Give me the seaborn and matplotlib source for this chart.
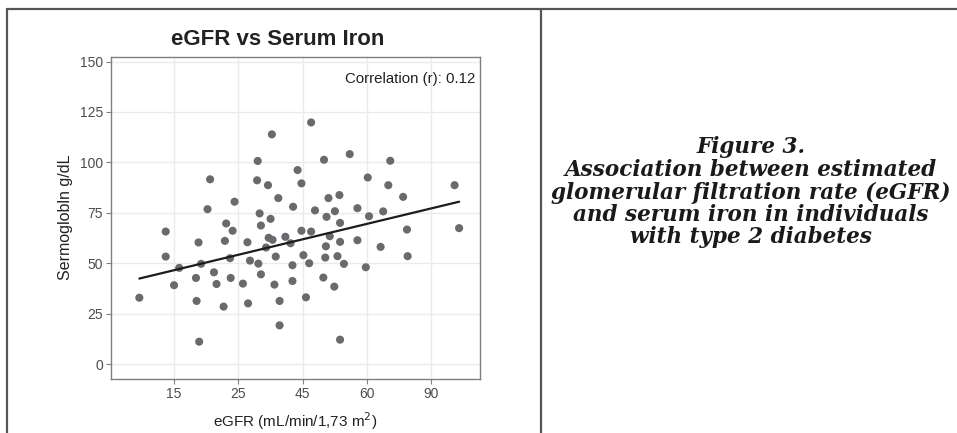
import matplotlib
matplotlib.use("Agg")
import matplotlib.pyplot as plt
import seaborn as sns
import pandas as pd
from matplotlib.lines import Line2D

# eGFR axis position (ticks at 1..5) and serum iron for each participant
egfr_pos = [2.30, 3.33, 3.73, 4.36, 1.56, 2.92, 2.29, 2.46, 2.98, 4.01, 4.33, 5.36,
            1.94, 2.62, 3.57, 3.40, 4.56, 1.52, 2.85, 3.19, 2.33, 3.50, 3.85, 4.25,
            3.37, 4.03, 2.50, 1.81, 2.35, 3.58, 0.87, 1.91, 2.98, 3.13, 4.62, 5.43,
            2.73, 2.47, 2.53, 3.42, 1.38, 1.79, 2.14, 2.81, 3.58, 3.85, 2.43, 4.21,
            0.87, 1.87, 2.58, 3.01, 3.35, 3.54, 4.63, 2.18, 1.08, 1.42, 2.31, 2.84,
            3.10, 3.64, 3.98, 1.62, 2.35, 1.34, 1.88, 2.84, 3.32, 1.00, 1.66, 2.07,
            2.56, 3.49, 0.46, 1.35, 1.77, 2.15, 2.64, 3.05, 2.64, 1.39, 3.58, 2.52,
            3.13, 3.36]
serum_iron = [100.7, 101.3, 104.1, 100.8, 91.6, 96.2, 91.1, 88.7, 89.6, 92.5, 88.7, 88.7,
              80.5, 82.3, 83.8, 82.3, 82.9, 76.8, 78.0, 76.2, 74.7, 75.8, 77.3, 75.7,
              73.0, 73.3, 72.0, 69.7, 68.7, 70.0, 65.7, 66.1, 66.1, 65.7, 66.7, 67.4,
              63.1, 62.6, 61.6, 63.4, 60.3, 61.1, 60.4, 59.9, 60.6, 61.4, 57.8, 58.1,
              53.3, 52.5, 53.3, 54.0, 52.8, 53.5, 53.5, 51.3, 47.7, 49.7, 49.8, 49.0,
              50.0, 49.7, 48.0, 45.5, 44.5, 42.7, 42.7, 41.2, 42.9, 39.1, 39.7, 39.9,
              39.4, 38.4, 32.9, 31.3, 28.5, 30.1, 31.3, 33.1, 19.2, 11.1, 12.1, 113.9,
              119.8, 58.4]

# linear trend line, evaluated at the smallest and largest eGFR positions
trend_pos = [0.46, 5.43]
trend_iron = [42.4, 80.5]

x_ticks = [1, 2, 3, 4, 5]
x_tick_labels = ["15", "25", "45", "60", "90"]
y_ticks = [0, 25, 50, 75, 100, 125, 150]
correlation_r = 0.12

caption_lines = [
    "Figure 3.",
    "Association between estimated",
    "glomerular filtration rate (eGFR)",
    "and serum iron in individuals",
    "with type 2 diabetes",
]

df = pd.DataFrame({"egfr": egfr_pos, "iron": serum_iron})
trend = pd.DataFrame({"egfr": trend_pos, "iron": trend_iron})

sns.set_theme(style="white")
plt.rcParams["font.family"] = ["Liberation Sans", "DejaVu Sans"]

W, H = 957, 433
fig = plt.figure(figsize=(W / 100, H / 100), dpi=100)
ax_top, ax_bottom, ax_left, ax_right = 56.5, 379, 110.7, 480
ax = fig.add_axes([ax_left / W, 1 - ax_bottom / H, (ax_right - ax_left) / W,
                   (ax_bottom - ax_top) / H])

grid_c = "#ebebeb"
for t in x_ticks:
    ax.axvline(t, color=grid_c, lw=1.0, zorder=0)
for t in y_ticks:
    ax.axhline(t, color=grid_c, lw=1.0, zorder=0)

sns.scatterplot(data=df, x="egfr", y="iron", ax=ax, color="#6a6a6e", s=34,
                edgecolor="none", linewidth=0, zorder=3)
sns.lineplot(data=trend, x="egfr", y="iron", ax=ax, color="#1c1c1c", lw=1.6,
             zorder=4)

ax.set_xlim(0.015, 5.755)
ax.set_ylim(-7.4, 152.5)
ax.set_xticks(x_ticks)
ax.set_xticklabels(x_tick_labels)
ax.set_yticks(y_ticks)
ax.tick_params(axis="both", which="major", length=3.5, width=0.8, color="#7f7f7f",
               labelsize=10, labelcolor="#4d4d4d", pad=2, direction="out",
               bottom=True, left=True)
for sp in ax.spines.values():
    sp.set_color("#7f7f7f")
    sp.set_linewidth(1.0)

ax.set_xlabel("eGFR (mL/min/1,73 m$^2$)", fontsize=11, color="#222222", labelpad=7)
ax.set_ylabel("Sermoglobln g/dL", fontsize=11.5, color="#222222", labelpad=5)

ax.text(0.988, 0.93, f"Correlation (r): {correlation_r:.2f}", transform=ax.transAxes,
        ha="right", va="center", fontsize=10.8, color="#222222")

fig.text(278 / W, 1 - 39.5 / H, "eGFR vs Serum Iron", ha="center", va="center",
         fontsize=16, fontweight="bold", color="#222222")

# page frame: top rule, left rule and column divider
frame_c = "#555555"
fig.add_artist(Line2D([7 / W, 1.0], [1 - 8.5 / H, 1 - 8.5 / H], transform=fig.transFigure,
                      color=frame_c, lw=1.6))
fig.add_artist(Line2D([7 / W, 7 / W], [0, 1 - 8.5 / H], transform=fig.transFigure,
                      color=frame_c, lw=1.6))
fig.add_artist(Line2D([541 / W, 541 / W], [0, 1 - 8.5 / H], transform=fig.transFigure,
                      color=frame_c, lw=1.6))

caption_y = [147, 170, 193, 215, 237]
for line, yy in zip(caption_lines, caption_y):
    fig.text(751 / W, 1 - yy / H, line, ha="center", va="center", fontsize=15.5,
             fontweight="bold", fontstyle="italic", family="DejaVu Serif",
             color="#1a1a1a")

fig.savefig("out.png", dpi=100, facecolor="white")
